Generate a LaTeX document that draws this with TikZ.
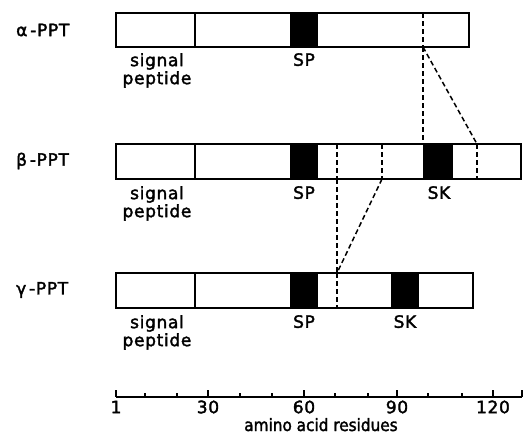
\documentclass[tikz,border=0pt]{standalone}
\usepackage{fontspec}
\setmainfont{DejaVu Sans}[LetterSpace=4, FakeBold=2]
\newfontfamily\condfont{DejaVu Sans Condensed}[FakeBold=2]
\usetikzlibrary{positioning}

\tikzset{
	seg/.style={draw, line width=1.6pt},
	cut/.style={line width=1.5pt, dash pattern=on 5pt off 3pt},
	lbl/.style={font=\fontsize{17}{18}\selectfont, inner sep=0pt},
	tickbig/.style={line width=1.4pt},
	ticksmall/.style={line width=1.3pt},
}

\begin{document}
\begin{tikzpicture}[x=1pt, y=-1pt]
		\useasboundingbox (0, 0) rectangle (523, 434);
		%%%%% ALPHA %%%%%
		\fill[black] (290, 13) rectangle (318, 47);
		\draw[seg] (116, 13) rectangle (469, 47);
		\draw[seg] (195, 13) -- (195, 47);
		\draw[cut] (423, 13) -- (423, 47);
		\coordinate (a98) at (423, 47);
		\node[lbl, anchor=west] (alpha) at (16, 30) {α\,-PPT};
		\node[lbl, anchor=north, align=center] (asig) at (157, 53) {signal\\peptide};
		\node[lbl, anchor=north] (asp) at (304, 53) {SP};
		
		%%%%% BETA %%%%%
		\fill[black] (290, 144) rectangle (318, 179);
		\fill[black] (423, 144) rectangle (453, 179);
		\draw[seg] (116, 144) rectangle (521, 179);
		\draw[seg] (195, 144) -- (195, 179);
		\draw[cut] (337, 144) -- (337, 179);
		\draw[cut] (382, 144) -- (382, 179);
		\draw[cut] (477, 144) -- (477, 179);
		\coordinate (b98) at (423, 144);
		\coordinate (b115) at (477, 144);
		\coordinate (b71) at (337, 179);
		\coordinate (b85) at (382, 179);
		\node[lbl, anchor=west] (beta) at (16, 161) {β\,-PPT};
		\node[lbl, anchor=north, align=center] (bsig) at (157, 186) {signal\\peptide};
		\node[lbl, anchor=north] (bsp) at (304, 186) {SP};
		\node[lbl, anchor=north] (bsk) at (439, 186) {SK};
		
		%%%%% GAMMA %%%%%
		\fill[black] (290, 273) rectangle (318, 308);
		\fill[black] (391, 273) rectangle (419, 308);
		\draw[seg] (116, 273) rectangle (473, 308);
		\draw[seg] (195, 273) -- (195, 308);
		\draw[cut] (337, 273) -- (337, 308);
		\coordinate (g71) at (337, 273);
		\node[lbl, anchor=west] (gamma) at (16, 290) {γ\,-PPT};
		\node[lbl, anchor=north, align=center] (gsig) at (157, 315) {signal\\peptide};
		\node[lbl, anchor=north] (gsp) at (304, 315) {SP};
		\node[lbl, anchor=north] (gsk) at (405, 315) {SK};
		
		%%%%% LINKS %%%%%
		\draw[cut] (a98) -- (b98);
		\draw[cut] (a98) -- (b115);
		\draw[cut] (b71) -- (g71);
		\draw[cut] (b85) -- (g71);
		
		%%%%% AXIS %%%%%
		\draw[tickbig] (116, 397) -- (522, 397);
		\draw[tickbig] (116, 390) -- (116, 397);
		\draw[ticksmall] (145, 393) -- (145, 397);
		\draw[ticksmall] (177, 393) -- (177, 397);
		\draw[tickbig] (208, 390) -- (208, 397);
		\draw[ticksmall] (240, 393) -- (240, 397);
		\draw[ticksmall] (272, 393) -- (272, 397);
		\draw[tickbig] (304, 390) -- (304, 397);
		\draw[ticksmall] (335, 393) -- (335, 397);
		\draw[ticksmall] (368, 393) -- (368, 397);
		\draw[tickbig] (397, 390) -- (397, 397);
		\draw[ticksmall] (428, 393) -- (428, 397);
		\draw[ticksmall] (462, 393) -- (462, 397);
		\draw[tickbig] (493, 390) -- (493, 397);
		\draw[tickbig] (522, 390) -- (522, 397);
		\node[lbl] (n1) at (116, 407) {1};
		\node[lbl] (n30) at (208, 407) {30};
		\node[lbl] (n60) at (304, 407) {60};
		\node[lbl] (n90) at (397, 407) {90};
		\node[lbl] (n120) at (493, 407) {120};
		\node[lbl, anchor=base] (aar) at (321, 431) {\condfont\fontsize{17}{18}\selectfont amino acid residues};
	\end{tikzpicture}
\end{document}
